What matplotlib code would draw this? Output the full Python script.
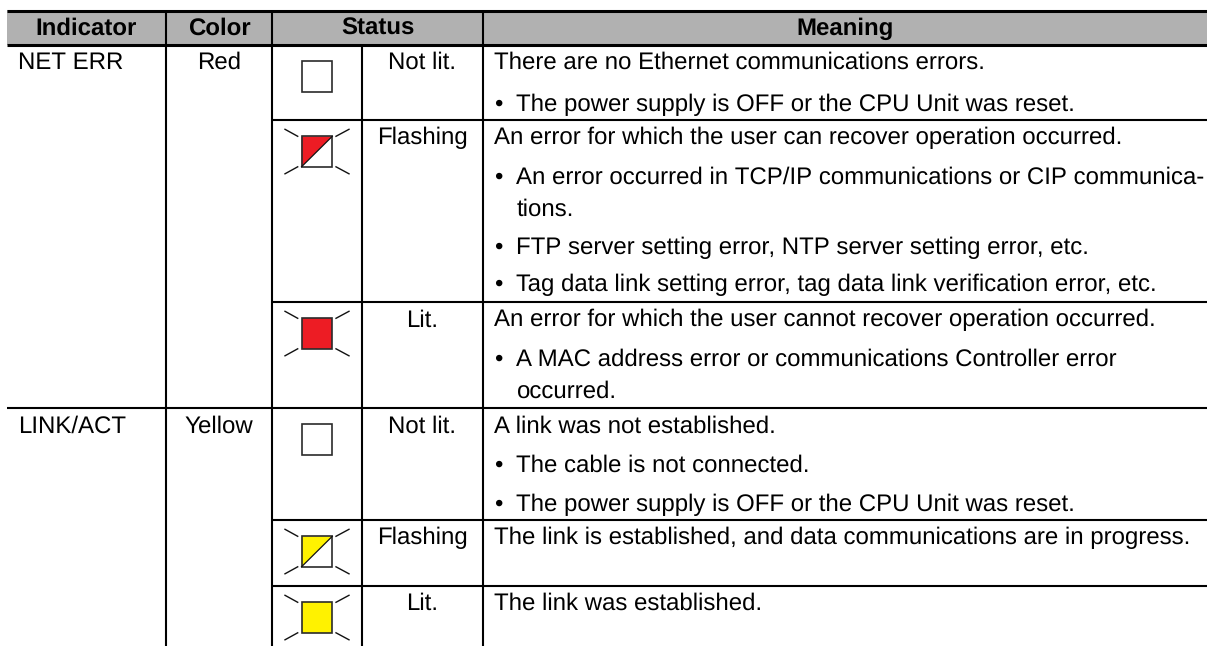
import matplotlib
matplotlib.use("Agg")
import matplotlib.pyplot as plt
from matplotlib.patches import Rectangle, Polygon

plt.rcParams['font.family'] = ['Liberation Sans', 'DejaVu Sans']
plt.rcParams['text.hinting'] = 'no_hinting'
plt.rcParams['text.hinting_factor'] = 1

# table content
headers = ['Indicator', 'Color', 'Status', 'Meaning']
indicators = ['NET ERR', 'LINK/ACT']
colors = ['Red', 'Yellow']
status_text = ['Not lit.', 'Flashing', 'Lit.', 'Not lit.', 'Flashing', 'Lit.']
status_mode = ['off', 'flash', 'on', 'off', 'flash', 'on']
status_fill = ['#ffffff', '#ed1c24', '#ed1c24', '#ffffff', '#fff200', '#fff200']

meaning = ['There are no Ethernet communications errors.',
           'The power supply is OFF or the CPU Unit was reset.',
           'An error for which the user can recover operation occurred.',
           'An error occurred in TCP/IP communications or CIP communica-',
           'tions.',
           'FTP server setting error, NTP server setting error, etc.',
           'Tag data link setting error, tag data link verification error, etc.',
           'An error for which the user cannot recover operation occurred.',
           'A MAC address error or communications Controller error',
           'occurred.',
           'A link was not established.',
           'The cable is not connected.',
           'The power supply is OFF or the CPU Unit was reset.',
           'The link is established, and data communications are in progress.',
           'The link was established.']
# 0 plain line, 1 line with a bullet, 2 continuation of a bullet
meaning_kind = [0, 1, 0, 1, 2, 1, 1, 0, 1, 2, 0, 1, 1, 0, 0]

# layout, in pixels of the page
meaning_base = [69, 111, 144, 184, 216, 254, 291, 326, 366, 398, 433, 472, 511, 544, 610]
status_lines = [120, 302, 520, 586]  # these stop at the merged indicator cells
group_line = 408
row_tops = [45, 120, 302, 408, 520, 586]
row_base = [69, 144, 327, 433, 544, 610]
indicator_rows = [0, 3]
col_lines = [165.7, 272, 361.7, 483]
LEFT, RIGHT = 7, 1207
FS = 17.1

fig = plt.figure(figsize=(12.07, 6.46), dpi=100)
ax = fig.add_axes([0, 0, 1, 1])
ax.set_xlim(0, 1207)
ax.set_ylim(646, 0)
ax.axis('off')

# header band
ax.add_patch(Rectangle((LEFT, 10), RIGHT - LEFT, 35, fc='#b1b1b1', ec='none'))
ax.plot([LEFT, RIGHT], [10.5, 10.5], color='black', lw=2.2, solid_capstyle='butt')
ax.plot([LEFT, RIGHT], [45, 45], color='black', lw=2.2, solid_capstyle='butt')

for y in status_lines:
    ax.plot([col_lines[1], RIGHT], [y, y], color='black', lw=1.5, solid_capstyle='butt')
ax.plot([LEFT, RIGHT], [group_line, group_line], color='black', lw=1.5, solid_capstyle='butt')
for x in col_lines:
    top = 45 if x == col_lines[2] else 10.5
    ax.plot([x, x], [top, 646], color='black', lw=1.5, solid_capstyle='butt')

header_x = [86, 219, 377.5, 845]
for x, t in zip(header_x, headers):
    ax.text(x, 35, t, ha='center', va='baseline', fontsize=FS, fontweight='bold')

for r, name, col in zip(indicator_rows, indicators, colors):
    ax.text(18, row_base[r], name, ha='left', va='baseline', fontsize=FS)
    ax.text(219, row_base[r], col, ha='center', va='baseline', fontsize=FS)

# lamp icons
SQ_L, SQ_R = 301.5, 332.3
for top, mode, fill, t, base in zip(row_tops, status_mode, status_fill, status_text, row_base):
    y0 = top + 16.3
    y1 = y0 + 30.5
    if mode == 'flash':
        ax.add_patch(Rectangle((SQ_L, y0), SQ_R - SQ_L, y1 - y0, fc='white', ec='none'))
        ax.add_patch(Polygon([(SQ_L, y0), (SQ_R, y0), (SQ_L, y1)], fc=fill, ec='none'))
        ax.plot([SQ_L, SQ_R], [y1, y0], color='#111111', lw=0.9)
    else:
        ax.add_patch(Rectangle((SQ_L, y0), SQ_R - SQ_L, y1 - y0, fc=fill, ec='none'))
    ax.add_patch(Rectangle((SQ_L, y0), SQ_R - SQ_L, y1 - y0, fc='none', ec='#2b2b2b', lw=1.2))
    if mode != 'off':
        ax.plot([285, 297.7], [y0 - 7, y0], color='#111111', lw=1.0)
        ax.plot([336, 349], [y0, y0 - 7], color='#111111', lw=1.0)
        ax.plot([285, 297.7], [y1 + 7, y1], color='#111111', lw=1.0)
        ax.plot([336, 349], [y1, y1 + 7], color='#111111', lw=1.0)
    ax.text(422.5, base, t, ha='center', va='baseline', fontsize=FS)

for t, kind, y in zip(meaning, meaning_kind, meaning_base):
    if kind == 0:
        ax.text(494, y, t, ha='left', va='baseline', fontsize=FS)
    else:
        ax.text(516.5, y, t, ha='left', va='baseline', fontsize=FS)
    if kind == 1:
        ax.text(498.5, y, '\u2022', ha='center', va='baseline', fontsize=FS)

fig.savefig('out.png', dpi=100, facecolor='white')
